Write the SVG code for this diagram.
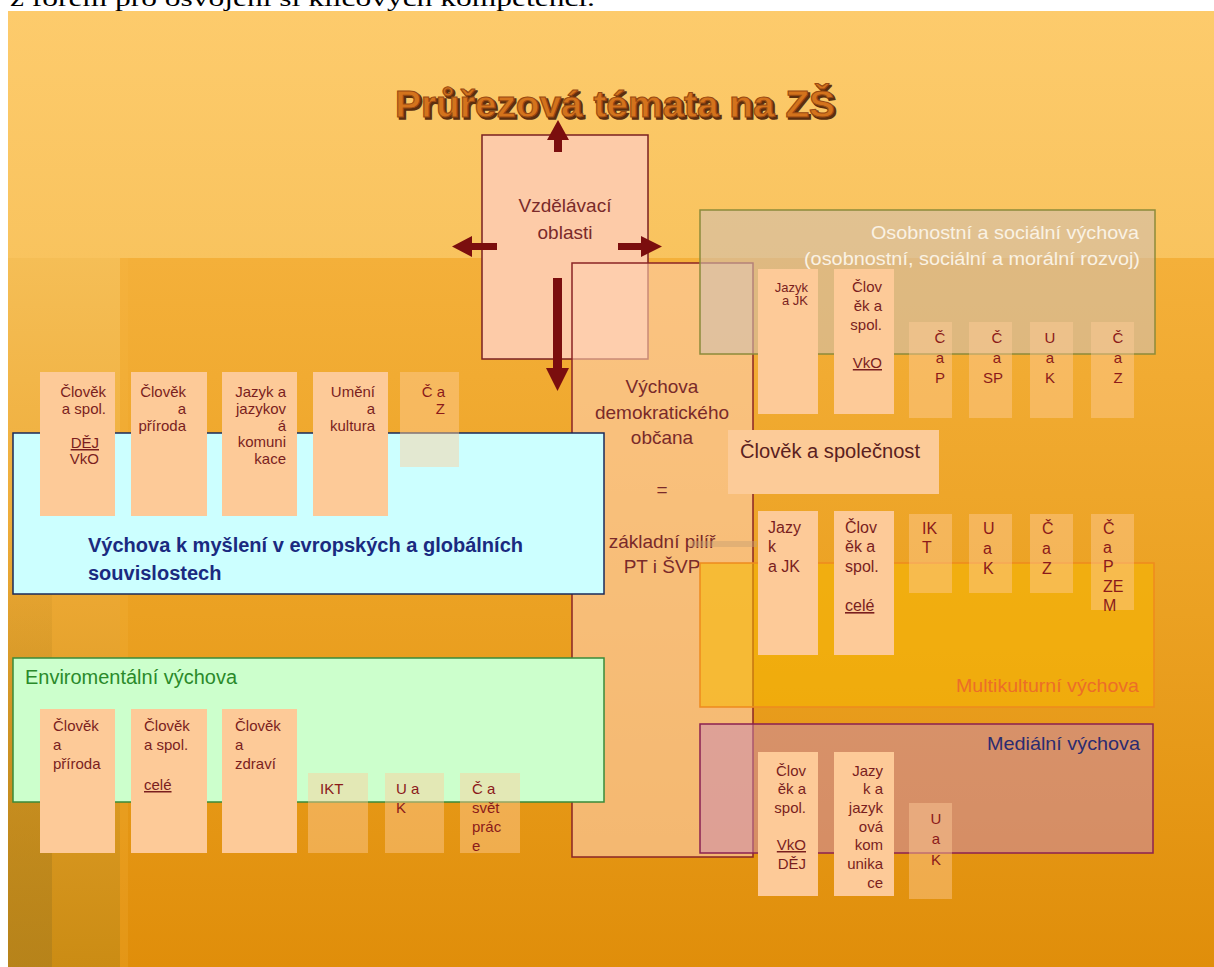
<svg xmlns="http://www.w3.org/2000/svg" width="1214" height="967" viewBox="0 0 1214 967">
<defs>
<linearGradient id="bgG" x1="0" y1="0" x2="0" y2="1">
<stop offset="0" stop-color="#FDCB6C"/>
<stop offset="0.3" stop-color="#F8C25C"/>
<stop offset="1" stop-color="#E6A02C"/>
</linearGradient>
<linearGradient id="bigG" x1="0" y1="0" x2="0" y2="1">
<stop offset="0" stop-color="#F4B03A"/>
<stop offset="0.5" stop-color="#EBA122"/>
<stop offset="1" stop-color="#E08E0A"/>
</linearGradient>
<linearGradient id="leftG" x1="0" y1="0" x2="0" y2="1">
<stop offset="0" stop-color="#F5BE56"/>
<stop offset="0.45" stop-color="#EDA934"/>
<stop offset="1" stop-color="#CB8C14"/>
</linearGradient>
<linearGradient id="edgeG" x1="0" y1="0" x2="0" y2="1">
<stop offset="0" stop-color="#B0801C" stop-opacity="0"/>
<stop offset="1" stop-color="#B0801C" stop-opacity="0.75"/>
</linearGradient>
<style>
.f{font-family:"Liberation Sans",Arial,sans-serif}
.col{fill:#FDCA98}
.scol{fill:#FFCC99;fill-opacity:0.45}
.ct{font-family:"Liberation Sans",Arial,sans-serif;font-size:15px;fill:#7A1E1E}
.st{font-family:"Liberation Sans",Arial,sans-serif;font-size:15px;fill:#8B1A1A}
.arr{fill:#7B0E0E}
.u{text-decoration:underline}
</style>
</defs>

<!-- backdrop -->
<rect x="0" y="0" width="1214" height="967" fill="#FFFFFF"/>
<text x="10" y="6" font-family="'Liberation Serif','Times New Roman',serif" font-size="24" fill="#000" textLength="585" lengthAdjust="spacingAndGlyphs">z forem pro osvojení si klíčových kompetencí.</text>
<rect x="8" y="11" width="1206" height="956" fill="url(#bgG)"/>
<rect x="8" y="258" width="112" height="709" fill="url(#leftG)"/>
<rect x="8" y="520" width="44" height="447" fill="url(#edgeG)"/>
<rect x="120" y="258" width="1094" height="709" fill="url(#bigG)"/>
<rect x="120" y="258" width="8" height="709" fill="#F7BC50" fill-opacity="0.18"/>

<!-- title -->
<g id="title">
<text x="397" y="119" class="f" font-size="36" font-weight="bold" fill="#5C2E0E" stroke="#5C2E0E" stroke-width="1.6" textLength="440" lengthAdjust="spacingAndGlyphs">Průřezová témata na ZŠ</text>
<text x="395" y="117" class="f" font-size="36" font-weight="bold" fill="#D4731C" stroke="#9A4A12" stroke-width="1" textLength="440" lengthAdjust="spacingAndGlyphs">Průřezová témata na ZŠ</text>
</g>

<!-- Vzdělávací oblasti -->
<g id="vzdelavaci-oblasti">
<rect x="482" y="135" width="166" height="224" fill="#FDCBA8" stroke="#7A2020" stroke-width="1.5"/>
<text class="f" font-size="19" fill="#7A2A2A" text-anchor="middle"><tspan x="565" y="212">Vzdělávací</tspan><tspan x="565" y="239">oblasti</tspan></text>
</g>

<!-- Výchova demokratického občana -->
<g id="vychova-demokratickeho-obcana">
<rect x="572" y="263" width="181" height="594" fill="#FFD0B0" fill-opacity="0.6" stroke="#8B2525" stroke-width="1.5"/>
<text class="f" font-size="19" fill="#7A2A2A" text-anchor="middle"><tspan x="662" y="393">Výchova</tspan><tspan x="662" y="419">demokratického</tspan><tspan x="662" y="444">občana</tspan><tspan x="662" y="496">=</tspan><tspan x="662" y="548">základní pilíř</tspan><tspan x="662" y="573">PT i ŠVP</tspan></text>
</g>

<!-- Osobnostní a sociální výchova -->
<g id="osv">
<rect x="700" y="210" width="455" height="144" fill="#D0C0B0" fill-opacity="0.6" stroke="#8C8A3A" stroke-width="1.5"/>
<text class="f" font-size="19" fill="#FAF2E4" text-anchor="end"><tspan x="1139" y="239" textLength="268" lengthAdjust="spacingAndGlyphs">Osobnostní a sociální výchova</tspan><tspan x="1140" y="265" textLength="336" lengthAdjust="spacingAndGlyphs">(osobnostní, sociální a morální rozvoj)</tspan></text>
</g>

<!-- Multikulturní výchova -->
<g id="mkv">
<rect x="700" y="563" width="454" height="144" fill="#F5B800" fill-opacity="0.55" stroke="#EE8A1E" stroke-width="1.5"/>
<text x="1139" y="692" class="f" font-size="19" fill="#EC6E28" text-anchor="end" textLength="183" lengthAdjust="spacingAndGlyphs">Multikulturní výchova</text>
</g>

<!-- Mediální výchova -->
<g id="medialni">
<rect x="700" y="724" width="453" height="129" fill="#C888B8" fill-opacity="0.5" stroke="#8B2050" stroke-width="1.5"/>
<text x="1140" y="750" class="f" font-size="19" fill="#2B2B70" text-anchor="end" textLength="153" lengthAdjust="spacingAndGlyphs">Mediální výchova</text>
</g>

<rect x="690" y="541" width="67" height="6" fill="#C8A070" fill-opacity="0.45"/>

<!-- Výchova k myšlení v evropských a globálních souvislostech -->
<g id="vmegs">
<rect x="13" y="433" width="591" height="161" fill="#CCFFFF" stroke="#1A2A5A" stroke-width="1.5"/>
<text class="f" font-size="20" font-weight="bold" fill="#1A2A80"><tspan x="88" y="552" textLength="435" lengthAdjust="spacingAndGlyphs">Výchova k myšlení v evropských a globálních</tspan><tspan x="88" y="580">souvislostech</tspan></text>
</g>

<!-- Enviromentální výchova -->
<g id="env">
<rect x="13" y="658" width="591" height="144" fill="#CCFFCC" stroke="#3A8A3A" stroke-width="1.5"/>
<text x="25" y="684" class="f" font-size="20" fill="#2A8A2A" textLength="212" lengthAdjust="spacingAndGlyphs">Enviromentální výchova</text>
</g>

<!-- Člověk a společnost -->
<g id="clovek-a-spolecnost">
<rect x="728" y="430" width="211" height="64" fill="#FCCB98"/>
<text x="740" y="458" class="f" font-size="20" fill="#5A2020" textLength="180" lengthAdjust="spacingAndGlyphs">Člověk a společnost</text>
</g>

<!-- left top subject columns -->
<g id="vmegs-subjects">
<g id="vmegs-cas"><rect class="col" x="40" y="372" width="75" height="144"/>
<text class="ct" text-anchor="end"><tspan x="106" y="397">Člověk</tspan><tspan x="106" y="414">a spol.</tspan><tspan x="99" y="448" class="u">DĚJ</tspan><tspan x="99" y="464">VkO</tspan></text></g>
<g id="vmegs-cap"><rect class="col" x="131" y="372" width="76" height="144"/>
<text class="ct" text-anchor="end"><tspan x="186" y="397">Člověk</tspan><tspan x="186" y="414">a</tspan><tspan x="186" y="431">příroda</tspan></text></g>
<g id="vmegs-jjk"><rect class="col" x="222" y="372" width="75" height="144"/>
<text class="ct" text-anchor="end"><tspan x="286" y="397">Jazyk a</tspan><tspan x="286" y="414">jazykov</tspan><tspan x="286" y="431">á</tspan><tspan x="286" y="447">komuni</tspan><tspan x="286" y="464">kace</tspan></text></g>
<g id="vmegs-uak"><rect class="col" x="313" y="372" width="75" height="144"/>
<text class="ct" text-anchor="end"><tspan x="375" y="397">Umění</tspan><tspan x="375" y="414">a</tspan><tspan x="375" y="431">kultura</tspan></text></g>
<g id="vmegs-caz"><rect class="scol" x="400" y="372" width="59" height="95"/>
<text class="st" text-anchor="end"><tspan x="445" y="397">Č a</tspan><tspan x="445" y="414">Z</tspan></text></g>
</g>

<!-- OSV subject columns -->
<g id="osv-subjects">
<g id="osv-jjk"><rect class="col" x="758" y="269" width="60" height="145"/>
<text class="ct" text-anchor="end" style="font-size:13px"><tspan x="808" y="292">Jazyk</tspan><tspan x="808" y="305">a JK</tspan></text></g>
<g id="osv-cas"><rect class="col" x="834" y="269" width="60" height="145"/>
<text class="ct" text-anchor="end"><tspan x="882" y="292">Člov</tspan><tspan x="882" y="311">ěk a</tspan><tspan x="882" y="330">spol.</tspan><tspan x="882" y="368" class="u">VkO</tspan></text></g>
<g id="osv-cap"><rect class="scol" x="909" y="322" width="43" height="96"/>
<text class="st" text-anchor="middle"><tspan x="940" y="343">Č</tspan><tspan x="940" y="363">a</tspan><tspan x="940" y="383">P</tspan></text></g>
<g id="osv-casp"><rect class="scol" x="969" y="322" width="43" height="96"/>
<text class="st" text-anchor="middle"><tspan x="997" y="343">Č</tspan><tspan x="997" y="363">a</tspan><tspan x="993" y="383">SP</tspan></text></g>
<g id="osv-uak"><rect class="scol" x="1030" y="322" width="43" height="96"/>
<text class="st" text-anchor="middle"><tspan x="1050" y="343">U</tspan><tspan x="1050" y="363">a</tspan><tspan x="1050" y="383">K</tspan></text></g>
<g id="osv-caz"><rect class="scol" x="1091" y="322" width="43" height="96"/>
<text class="st" text-anchor="middle"><tspan x="1118" y="343">Č</tspan><tspan x="1118" y="363">a</tspan><tspan x="1118" y="383">Z</tspan></text></g>
</g>

<!-- MKV subject columns -->
<g id="mkv-subjects">
<g id="mkv-jjk"><rect class="col" x="758" y="511" width="60" height="144"/>
<text class="ct" style="font-size:16px"><tspan x="768" y="533">Jazy</tspan><tspan x="768" y="552">k</tspan><tspan x="768" y="572">a JK</tspan></text></g>
<g id="mkv-cas"><rect class="col" x="834" y="511" width="60" height="144"/>
<text class="ct" style="font-size:16px"><tspan x="845" y="533">Člov</tspan><tspan x="845" y="552">ěk a</tspan><tspan x="845" y="572">spol.</tspan><tspan x="845" y="611" class="u">celé</tspan></text></g>
<g id="mkv-ikt"><rect class="scol" x="909" y="514" width="43" height="79"/>
<text class="st" style="font-size:16px"><tspan x="922" y="534">IK</tspan><tspan x="922" y="553">T</tspan></text></g>
<g id="mkv-uak"><rect class="scol" x="969" y="514" width="43" height="79"/>
<text class="st" style="font-size:16px"><tspan x="983" y="534">U</tspan><tspan x="983" y="554">a</tspan><tspan x="983" y="574">K</tspan></text></g>
<g id="mkv-caz"><rect class="scol" x="1030" y="514" width="43" height="79"/>
<text class="st" style="font-size:16px"><tspan x="1042" y="534">Č</tspan><tspan x="1042" y="554">a</tspan><tspan x="1042" y="574">Z</tspan></text></g>
<g id="mkv-capzem"><rect class="scol" x="1091" y="514" width="43" height="96"/>
<text class="st" style="font-size:16px"><tspan x="1103" y="534">Č</tspan><tspan x="1103" y="553">a</tspan><tspan x="1103" y="572">P</tspan><tspan x="1103" y="592">ZE</tspan><tspan x="1103" y="611">M</tspan></text></g>
</g>

<!-- Mediální subject columns -->
<g id="med-subjects">
<g id="med-cas"><rect class="col" x="758" y="752" width="60" height="144"/>
<text class="ct" text-anchor="end"><tspan x="806" y="776">Člov</tspan><tspan x="806" y="794">ěk a</tspan><tspan x="806" y="813">spol.</tspan><tspan x="806" y="850" class="u">VkO</tspan><tspan x="806" y="869">DĚJ</tspan></text></g>
<g id="med-jjk"><rect class="col" x="834" y="752" width="60" height="144"/>
<text class="ct" text-anchor="end"><tspan x="883" y="776">Jazy</tspan><tspan x="883" y="794">k a</tspan><tspan x="883" y="813">jazyk</tspan><tspan x="883" y="832">ová</tspan><tspan x="883" y="850">kom</tspan><tspan x="883" y="869">unika</tspan><tspan x="883" y="888">ce</tspan></text></g>
<g id="med-uak"><rect class="scol" x="909" y="803" width="43" height="96"/>
<text class="st" text-anchor="middle"><tspan x="936" y="824">U</tspan><tspan x="936" y="844">a</tspan><tspan x="936" y="865">K</tspan></text></g>
</g>

<!-- Environmental subject columns -->
<g id="env-subjects">
<g id="env-cap"><rect class="col" x="40" y="709" width="75" height="144"/>
<text class="ct"><tspan x="53" y="731">Člověk</tspan><tspan x="53" y="750">a</tspan><tspan x="53" y="769">příroda</tspan></text></g>
<g id="env-cas"><rect class="col" x="131" y="709" width="76" height="144"/>
<text class="ct"><tspan x="144" y="731">Člověk</tspan><tspan x="144" y="750">a spol.</tspan><tspan x="144" y="790" class="u">celé</tspan></text></g>
<g id="env-caz"><rect class="col" x="222" y="709" width="75" height="144"/>
<text class="ct"><tspan x="235" y="731">Člověk</tspan><tspan x="235" y="750">a</tspan><tspan x="235" y="769">zdraví</tspan></text></g>
<g id="env-ikt"><rect class="scol" x="308" y="773" width="60" height="80"/>
<text class="st"><tspan x="320" y="794">IKT</tspan></text></g>
<g id="env-uak"><rect class="scol" x="385" y="773" width="59" height="80"/>
<text class="st"><tspan x="396" y="794">U a</tspan><tspan x="396" y="813">K</tspan></text></g>
<g id="env-casp"><rect class="scol" x="460" y="773" width="60" height="80"/>
<text class="st"><tspan x="472" y="794">Č a</tspan><tspan x="472" y="813">svět</tspan><tspan x="472" y="832">prác</tspan><tspan x="472" y="851">e</tspan></text></g>
</g>

<!-- connectors -->
<g id="connectors">
<path class="arr" d="M554,152 L554,140 L547,140 L558,120 L569,140 L562,140 L562,152 Z"/>
<path class="arr" d="M497,243 L472,243 L472,236 L452,246.5 L472,257 L472,250 L497,250 Z"/>
<path class="arr" d="M618,243 L641,243 L641,236 L662,246.5 L641,257 L641,250 L618,250 Z"/>
<path class="arr" d="M553,278 L553,368 L546,368 L557.5,391 L569,368 L562,368 L562,278 Z"/>
</g>
</svg>
